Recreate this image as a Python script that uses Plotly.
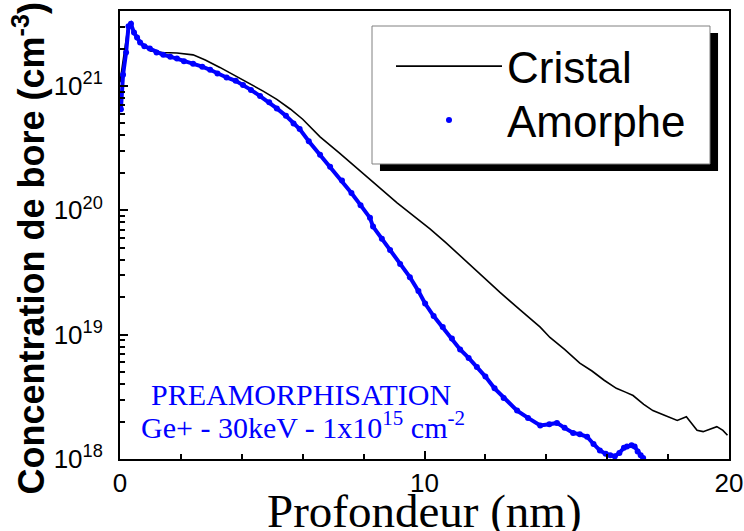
import plotly.graph_objects as go

# ---- data (depth in nm, boron concentration in cm^-3) ----
cristal_x = [0.0, 0.12, 0.27, 0.36, 0.46, 0.66, 1.0, 1.4, 1.87, 2.4, 2.8, 3.28, 3.8, 4.27, 4.7,
             5.15, 5.6, 6.0, 6.57, 7.2, 7.88, 8.54, 9.1, 9.42, 9.75, 10.18, 10.7, 11.17, 11.82,
             12.48, 13.14, 13.46, 13.8, 14.12, 14.6, 15.1, 15.5, 15.9, 16.3, 16.6, 16.85, 17.2,
             17.5, 17.9, 18.3, 18.6, 18.95, 19.15, 19.4, 19.6, 19.8, 19.95]
cristal_y = [1.07e21, 1.66e21, 3.09e21, 3.24e21, 2.69e21, 2.24e21, 1.91e21, 1.86e21, 1.84e21,
             1.78e21, 1.62e21, 1.41e21, 1.20e21, 1.05e21, 9.1e20, 7.8e20, 6.5e20, 5.4e20, 3.9e20,
             2.9e20, 2.1e20, 1.51e20, 1.15e20, 1.0e20, 8.7e19, 7.1e19, 5.5e19, 4.3e19, 3.1e19,
             2.19e19, 1.58e19, 1.35e19, 1.15e19, 9.5e18, 7.6e18, 5.9e18, 5.1e18, 4.3e18, 3.7e18,
             3.45e18, 3.24e18, 2.75e18, 2.45e18, 2.24e18, 2.04e18, 2.19e18, 1.70e18, 1.66e18,
             1.74e18, 1.82e18, 1.70e18, 1.55e18]

amorphe_x = [0.03, 0.1, 0.2, 0.28, 0.36, 0.46, 0.56, 0.66, 0.8, 0.98, 1.2, 1.42, 1.65, 1.87, 2.1,
             2.4, 2.7, 2.96, 3.2, 3.5, 3.8, 4.04, 4.3, 4.6, 4.9, 5.15, 5.45, 5.7, 5.9, 6.2, 6.57,
             6.9, 7.29, 7.6, 7.9, 8.21, 8.31, 8.6, 8.87, 9.2, 9.52, 9.8, 10.02, 10.3, 10.6, 10.9,
             11.17, 11.45, 11.72, 12.0, 12.3, 12.6, 13.04, 13.4, 13.8, 14.1, 14.35, 14.6, 14.88,
             15.1, 15.34, 15.55, 15.76, 15.95, 16.1, 16.25, 16.4, 16.55, 16.65, 16.8, 16.9, 17.0,
             17.1, 17.18]
amorphe_y = [6.5e20, 1.23e21, 1.86e21, 3.02e21, 3.16e21, 2.69e21, 2.45e21, 2.24e21, 2.09e21,
             2.0e21, 1.86e21, 1.78e21, 1.72e21, 1.66e21, 1.58e21, 1.51e21, 1.43e21, 1.35e21,
             1.26e21, 1.17e21, 1.10e21, 1.02e21, 9.3e20, 8.3e20, 7.4e20, 6.6e20, 5.75e20, 5.0e20,
             4.5e20, 3.6e20, 2.8e20, 2.24e20, 1.74e20, 1.38e20, 1.10e20, 8.7e19, 7.4e19, 5.9e19,
             4.8e19, 3.7e19, 2.9e19, 2.24e19, 1.78e19, 1.41e19, 1.15e19, 9.3e18, 7.6e18, 6.5e18,
             5.5e18, 4.6e18, 3.7e18, 3.1e18, 2.45e18, 2.14e18, 1.86e18, 1.90e18, 1.95e18, 1.78e18,
             1.62e18, 1.58e18, 1.51e18, 1.32e18, 1.17e18, 1.10e18, 1.07e18, 1.05e18, 1.12e18,
             1.23e18, 1.26e18, 1.29e18, 1.26e18, 1.15e18, 1.07e18, 1.02e18]

x_tickvals = [0, 10, 20]
x_ticktext = ["0", "10", "20"]
y_tickvals = [1e18, 1e19, 1e20, 1e21]
y_ticktext = ["10<sup>18</sup>", "10<sup>19</sup>", "10<sup>20</sup>", "10<sup>21</sup>"]
y_minor = [float(k) * 10.0 ** n for n in range(18, 22) for k in range(2, 10)
           if float(k) * 10.0 ** n < 4e21]

BLUE = "#0000ff"
SANS = "Arial, Liberation Sans, sans-serif"
SERIF = "Times New Roman, Liberation Serif, serif"

fig = go.Figure()
fig.add_trace(go.Scatter(x=cristal_x, y=cristal_y, mode="lines", name="Cristal",
                         line=dict(color="black", width=1.6), legend="legend"))
fig.add_trace(go.Scatter(x=amorphe_x, y=amorphe_y, mode="lines", showlegend=False,
                         line=dict(color=BLUE, width=4), hoverinfo="skip"))
fig.add_trace(go.Scatter(x=amorphe_x, y=amorphe_y, mode="markers", name="Amorphe",
                         marker=dict(color=BLUE, size=6), legend="legend2"))

axis_common = dict(showline=True, linecolor="black", linewidth=2, mirror=True,
                   showgrid=False, zeroline=False, ticks="inside", tickcolor="black",
                   tickwidth=1.5, ticklen=8, automargin=False,
                   tickfont=dict(family=SANS, size=26, color="black"))

fig.update_xaxes(range=[0, 20], tickvals=x_tickvals, ticktext=x_ticktext,
                 minor=dict(dtick=2, ticks="inside", ticklen=5, tickcolor="black", tickwidth=1.5),
                 **axis_common)
fig.update_yaxes(type="log", range=[18, 21.603], tickvals=y_tickvals, ticktext=y_ticktext,
                 ticklabelstandoff=10,
                 minor=dict(tickvals=y_minor, ticks="inside", ticklen=5, tickcolor="black",
                            tickwidth=1.5),
                 **axis_common)

# legend box with drop shadow
fig.add_shape(type="rect", xref="paper", yref="paper", x0=0.4269, x1=0.982, y0=0.6429, y1=0.951,
              fillcolor="black", line=dict(width=0), layer="above")
fig.add_shape(type="rect", xref="paper", yref="paper", x0=0.4138, x1=0.9688, y0=0.6585, y1=0.9665,
              fillcolor="white", line=dict(color="#808080", width=1), layer="above")

fig.add_annotation(text="Profondeur (nm)", xref="paper", yref="paper", x=0.5, y=-0.116,
                   showarrow=False, xanchor="center", yanchor="middle",
                   font=dict(family=SERIF, size=47, color="black"))
fig.add_annotation(text="<b>Concentration de bore (cm<sup>-3</sup>)</b>", xref="paper", yref="paper",
                   x=-0.15, y=0.469, textangle=-90, showarrow=False, xanchor="center",
                   yanchor="middle", font=dict(family=SANS, size=36, color="black"))
fig.add_annotation(text="PREAMORPHISATION", xref="paper", yref="paper", x=0.298, y=0.145,
                   showarrow=False, xanchor="center", yanchor="middle",
                   font=dict(family=SERIF, size=30, color=BLUE))
fig.add_annotation(text="Ge+ - 30keV - 1x10<sup>15</sup> cm<sup>-2</sup>", xref="paper", yref="paper",
                   x=0.3005, y=0.075, showarrow=False, xanchor="center", yanchor="middle",
                   font=dict(family=SERIF, size=30, color=BLUE))

leg_common = dict(xanchor="left", yanchor="top", bgcolor="rgba(0,0,0,0)", borderwidth=0,
                  itemwidth=106, font=dict(family=SANS, size=44, color="black"))
fig.update_layout(
    width=744, height=531,
    margin=dict(l=120, r=15, t=11, b=72, autoexpand=False),
    paper_bgcolor="white", plot_bgcolor="white",
    legend=dict(x=0.445, y=0.9554, **leg_common),
    legend2=dict(x=0.445, y=0.8348, **leg_common),
)

fig.write_html("out.html", config={"displayModeBar": False},
               post_script="document.body.style.margin='0px';document.body.style.overflow='hidden';")
